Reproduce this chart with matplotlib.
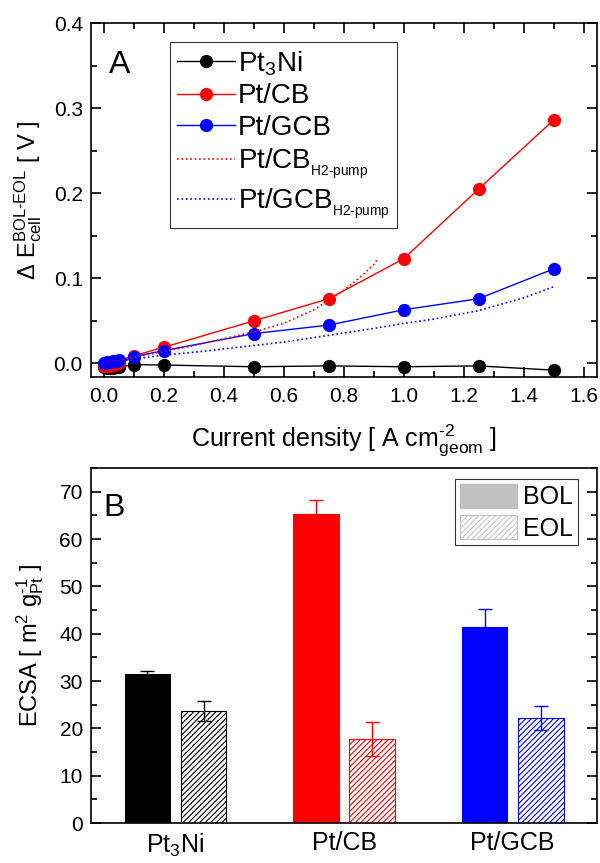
import matplotlib
matplotlib.use('Agg')
import matplotlib.pyplot as plt
from matplotlib.patches import Patch
from matplotlib.ticker import MultipleLocator, FormatStrFormatter

plt.rcParams['font.family'] = ['Liberation Sans', 'DejaVu Sans']
plt.rcParams['mathtext.fontset'] = 'custom'
plt.rcParams['mathtext.rm'] = 'Liberation Sans'
plt.rcParams['mathtext.it'] = 'Liberation Sans'
plt.rcParams['mathtext.default'] = 'regular'
plt.rcParams['hatch.linewidth'] = 0.8

# panel A: voltage loss vs current density
j = [0.0, 0.01, 0.02, 0.03, 0.04, 0.05, 0.1, 0.2, 0.5, 0.75, 1.0, 1.25, 1.5]
dE_pt3ni = [-0.004, -0.005, -0.005, -0.005, -0.004, -0.004, -0.0015, -0.002, -0.004, -0.003, -0.004, -0.003, -0.008]
dE_ptcb = [-0.003, -0.003, -0.003, -0.002, -0.001, 0.0, 0.009, 0.019, 0.050, 0.076, 0.123, 0.205, 0.286]
dE_ptgcb = [0.0, 0.001, 0.002, 0.003, 0.003, 0.004, 0.008, 0.015, 0.035, 0.045, 0.063, 0.076, 0.111]

j_pump_cb = [0.0, 0.1, 0.2, 0.3, 0.4, 0.5, 0.6, 0.7, 0.75, 0.8, 0.85, 0.9, 0.915]
dE_pump_cb = [0.0, 0.007, 0.014, 0.021, 0.029, 0.037, 0.047, 0.063, 0.074, 0.086, 0.100, 0.116, 0.124]
j_pump_gcb = [0.0, 0.1, 0.2, 0.3, 0.4, 0.5, 0.6, 0.75, 0.9, 1.0, 1.1, 1.25, 1.4, 1.5]
dE_pump_gcb = [0.0, 0.005, 0.0098, 0.013, 0.017, 0.021, 0.025, 0.033, 0.041, 0.047, 0.052, 0.062, 0.077, 0.090]

# panel B: ECSA before / after
catalysts = ['Pt$_3$Ni', 'Pt/CB', 'Pt/GCB']
colors = ['black', '#ff0000', '#0000ff']
ecsa_bol = [31.4, 65.2, 41.4]
ecsa_bol_err = [0.7, 3.0, 3.8]
ecsa_eol = [23.6, 17.8, 22.2]
ecsa_eol_err = [2.1, 3.6, 2.6]

fig = plt.figure(figsize=(6.0, 8.63), dpi=100)
ax1 = fig.add_axes([0.152, 0.5632, 0.843, 0.410])
ax2 = fig.add_axes([0.152, 0.0463, 0.843, 0.4114])

ms = 8.5
ax1.plot(j, dE_pt3ni, '-o', color='black', lw=1, ms=ms, label='Pt$_3$Ni')
ax1.plot(j, dE_ptcb, '-o', color='#ff0000', lw=1, ms=ms, label='Pt/CB')
ax1.plot(j, dE_ptgcb, '-o', color='#0000ff', lw=1, ms=ms, label='Pt/GCB')
ax1.plot(j_pump_cb, dE_pump_cb, ':', color='#ff0000', lw=1.2, label=r'Pt/CB$_{_{H2\text{-}pump}}$')
ax1.plot(j_pump_gcb, dE_pump_gcb, ':', color='#0000ff', lw=1.2, label=r'Pt/GCB$_{_{H2\text{-}pump}}$')

ax1.set_xlim(-0.043, 1.645)
ax1.set_ylim(-0.016, 0.4)
ax1.xaxis.set_major_locator(MultipleLocator(0.2))
ax1.xaxis.set_minor_locator(MultipleLocator(0.1))
ax1.yaxis.set_major_locator(MultipleLocator(0.1))
ax1.yaxis.set_minor_locator(MultipleLocator(0.05))
ax1.xaxis.set_major_formatter(FormatStrFormatter('%.1f'))
ax1.yaxis.set_major_formatter(FormatStrFormatter('%.1f'))
ax1.tick_params(which='both', direction='in', top=True, right=True, labelsize=15, width=1.2)
ax1.tick_params(which='major', length=7, pad=7)
ax1.tick_params(axis='y', which='major', pad=6)
ax1.tick_params(which='minor', length=4)
ax1.set_xlabel(r'Current density [ A cm$_{geom}^{\text{-}2}$ ]', fontsize=18, labelpad=12)
ax1.set_ylabel(r'$\Delta$ E$_{cell}^{BOL\text{-}EOL}$ [ V ]', fontsize=17, labelpad=7)
ax1.text(0.036, 0.925, 'A', transform=ax1.transAxes, fontsize=23, va='top')
leg = ax1.legend(loc='upper left', bbox_to_anchor=(0.156, 0.946), borderaxespad=0,
                 fontsize=20, frameon=True, fancybox=False, edgecolor='black',
                 handlelength=2.1, borderpad=0.25, labelspacing=0.2, handletextpad=0.1)
leg.get_frame().set_linewidth(0.8)

x = range(len(catalysts))
w = 0.27
off = 0.167
for i in x:
    ax2.bar(i - off, ecsa_bol[i], w, color=colors[i], edgecolor=colors[i], lw=0.8)
    ax2.errorbar(i - off, ecsa_bol[i], yerr=ecsa_bol_err[i], color=colors[i], capsize=5, lw=1, capthick=1)
    ax2.bar(i + off, ecsa_eol[i], w, color='white', edgecolor=colors[i], hatch='//////', lw=0.8)
    ax2.errorbar(i + off, ecsa_eol[i], yerr=ecsa_eol_err[i], color=colors[i], capsize=5, lw=1, capthick=1)

ax2.set_xlim(-0.5, 2.5)
ax2.set_ylim(0, 75)
ax2.set_xticks(list(x))
ax2.set_xticklabels(catalysts)
ax2.yaxis.set_major_locator(MultipleLocator(10))
ax2.yaxis.set_minor_locator(MultipleLocator(5))
ax2.tick_params(axis='y', which='both', direction='in', right=True, labelsize=15, width=1.2, pad=6)
ax2.tick_params(axis='y', which='major', length=7)
ax2.tick_params(axis='y', which='minor', length=4)
ax2.tick_params(axis='x', length=0, labelsize=18, pad=6)
ax2.set_ylabel(r'ECSA [ m$^2$ g$_{Pt}^{\text{-}1}$ ]', fontsize=17, labelpad=10)
ax2.text(0.025, 0.93, 'B', transform=ax2.transAxes, fontsize=23, va='top')
handles = [Patch(facecolor='#c0c0c0', edgecolor='#c0c0c0'),
           Patch(facecolor='white', edgecolor='#c8c8c8', hatch='//////')]
leg2 = ax2.legend(handles, ['BOL', 'EOL'], loc='upper right', bbox_to_anchor=(0.962, 0.969),
                  borderaxespad=0, fontsize=18, frameon=True, fancybox=False, edgecolor='black',
                  handlelength=2.3, handleheight=1.1, borderpad=0.18, labelspacing=0.25,
                  handletextpad=0.25)
leg2.get_frame().set_linewidth(0.8)

for ax in (ax1, ax2):
    for s in ax.spines.values():
        s.set_linewidth(1.2)

fig.savefig('out.png', dpi=100)
